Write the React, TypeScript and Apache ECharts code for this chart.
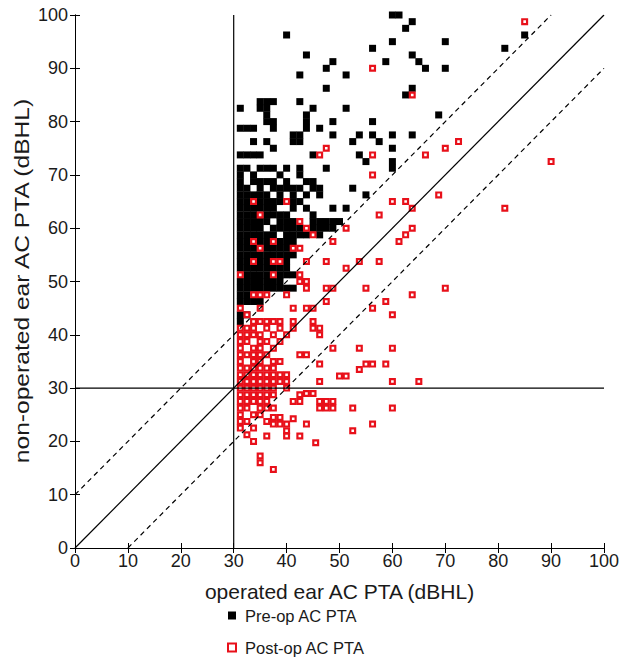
import React, { useEffect, useRef } from "react";
import * as echarts from "echarts";

// Pre-op AC PTA: [operated ear, non-operated ear] (dBHL)
const preOp: number[][] = [
  [60, 100], [61.25, 100], [63.75, 98.75], [62.5, 97.5], [40, 96.25], [60, 95], [70, 95], [85, 96.25],
  [56.25, 93.75], [81.25, 93.75], [43.75, 92.5], [63.75, 92.5], [48.75, 91.25], [58.75, 91.25], [65, 91.25],
  [47.5, 90], [66.25, 90], [70, 90], [42.5, 88.75], [51.25, 88.75], [47.5, 86.25], [63.75, 86.25], [62.5, 85],
  [68.75, 81.25], [63.75, 77.5], [60, 77.5], [56.25, 80], [56.25, 77.5], [57.5, 76.25], [53.75, 77.5],
  [52.5, 76.25], [51.25, 82.5], [48.75, 80], [48.75, 77.5], [46.25, 78.75], [45, 82.5], [43.75, 81.25],
  [43.75, 80], [43.75, 78.75], [42.5, 83.75], [37.5, 83.75], [35, 83.75], [36.25, 83.75], [35, 82.5],
  [36.25, 82.5], [36.25, 81.25], [36.25, 80], [31.25, 82.5], [31.25, 78.75], [32.5, 78.75], [33.75, 78.75],
  [37.5, 80], [37.5, 78.75], [41.25, 76.25], [42.5, 76.25], [41.25, 77.5], [42.5, 77.5], [33.75, 76.25],
  [36.25, 76.25], [37.5, 75], [60, 75], [31.25, 73.75], [32.5, 73.75], [33.75, 73.75], [35, 73.75], [45, 73.75],
  [47.5, 71.25], [53.75, 73.75], [55, 72.5], [60, 72.5], [60, 71.25], [52.5, 67.5], [55, 66.25], [46.25, 66.25],
  [48.75, 63.75], [51.25, 63.75], [47.5, 61.25], [48.75, 61.25], [50, 61.25], [47.5, 60], [48.75, 60],
  [31.25, 71.25], [32.5, 71.25], [35, 71.25], [36.25, 71.25], [37.5, 71.25], [40, 71.25], [42.5, 71.25],
  [31.25, 70], [33.75, 70], [38.75, 70], [42.5, 70],
  [31.25, 68.75], [33.75, 68.75], [35, 68.75], [36.25, 68.75], [37.5, 68.75], [40, 68.75], [43.75, 68.75], [45, 68.75],
  [31.25, 67.5], [32.5, 67.5], [35, 67.5], [37.5, 67.5], [38.75, 67.5], [40, 67.5], [41.25, 67.5], [42.5, 67.5], [45, 67.5], [46.25, 67.5],
  [31.25, 66.25], [32.5, 66.25], [33.75, 66.25], [35, 66.25], [36.25, 66.25], [38.75, 66.25], [41.25, 66.25], [43.75, 66.25],
  [31.25, 65], [32.5, 65], [35, 65], [36.25, 65], [37.5, 65], [38.75, 65], [41.25, 65], [42.5, 65],
  [31.25, 63.75], [32.5, 63.75], [33.75, 63.75], [35, 63.75], [36.25, 63.75], [37.5, 63.75], [41.25, 63.75], [43.75, 63.75],
  [31.25, 62.5], [32.5, 62.5], [33.75, 62.5], [36.25, 62.5], [37.5, 62.5], [38.75, 62.5], [40, 62.5], [45, 62.5],
  [31.25, 61.25], [32.5, 61.25], [33.75, 61.25], [35, 61.25], [36.25, 61.25], [38.75, 61.25], [40, 61.25], [41.25, 61.25], [45, 61.25], [46.25, 61.25],
  [31.25, 60], [32.5, 60], [33.75, 60], [35, 60], [37.5, 60], [38.75, 60], [40, 60], [41.25, 60], [42.5, 60], [45, 60], [46.25, 60],
  [31.25, 58.75], [32.5, 58.75], [33.75, 58.75], [35, 58.75], [36.25, 58.75], [37.5, 58.75], [40, 58.75], [41.25, 58.75], [42.5, 58.75], [43.75, 58.75], [46.25, 58.75],
  [31.25, 57.5], [32.5, 57.5], [35, 57.5], [36.25, 57.5], [38.75, 57.5], [40, 57.5], [41.25, 57.5],
  [31.25, 56.25], [32.5, 56.25], [33.75, 56.25], [36.25, 56.25], [37.5, 56.25], [38.75, 56.25], [40, 56.25],
  [31.25, 55], [32.5, 55], [33.75, 55], [35, 55], [36.25, 55], [37.5, 55], [38.75, 55], [40, 55], [41.25, 55],
  [31.25, 53.75], [32.5, 53.75], [35, 53.75], [36.25, 53.75], [40, 53.75],
  [31.25, 52.5], [32.5, 52.5], [33.75, 52.5], [35, 52.5], [36.25, 52.5], [37.5, 52.5], [38.75, 52.5], [40, 52.5],
  [32.5, 51.25], [33.75, 51.25], [35, 51.25], [36.25, 51.25], [38.75, 51.25], [40, 51.25], [41.25, 51.25],
  [31.25, 50], [32.5, 50], [33.75, 50], [35, 50], [36.25, 50], [37.5, 50], [38.75, 50],
  [31.25, 48.75], [32.5, 48.75], [33.75, 48.75], [35, 48.75], [36.25, 48.75], [37.5, 48.75], [38.75, 48.75], [40, 48.75], [41.25, 48.75],
  [31.25, 47.5], [32.5, 47.5], [31.25, 46.25], [32.5, 46.25], [33.75, 46.25], [35, 46.25],
  [31.25, 43.75], [32.5, 43.75], [31.25, 42.5],
];

// Post-op AC PTA: [operated ear, non-operated ear] (dBHL)
const postOp: number[][] = [
  [85, 98.75], [56.25, 90], [63.75, 85], [72.5, 76.25], [70, 75], [66.25, 73.75], [90, 72.5], [68.75, 66.25],
  [62.5, 65], [60, 65], [81.25, 63.75], [63.75, 63.75], [57.5, 62.5], [63.75, 60], [62.5, 58.75], [61.25, 57.5],
  [51.25, 60], [48.75, 57.5], [46.25, 73.75], [47.5, 75], [56.25, 73.75], [56.25, 70], [42.5, 61.25], [43.75, 60],
  [45, 58.75], [33.75, 65], [40, 65], [35, 62.5], [33.75, 57.5], [35, 56.25], [37.5, 57.5], [41.25, 56.25],
  [42.5, 56.25], [33.75, 53.75], [37.5, 53.75], [38.75, 53.75], [43.75, 53.75], [47.5, 53.75], [53.75, 53.75],
  [57.5, 53.75], [51.25, 52.5], [31.25, 51.25], [37.5, 51.25], [42.5, 51.25], [42.5, 50], [43.75, 50], [43.75, 48.75],
  [47.5, 48.75], [48.75, 48.75], [55, 48.75], [70, 48.75], [63.75, 47.5], [33.75, 47.5], [35, 47.5], [36.25, 47.5],
  [40, 47.5], [47.5, 46.25], [41.25, 45], [43.75, 45], [45, 45], [56.25, 45], [58.75, 46.25], [60, 43.75],
  [32.5, 43.75], [35, 45], [31.25, 45],
  [33.75, 42.5], [35, 42.5], [36.25, 42.5], [37.5, 42.5], [38.75, 42.5], [41.25, 42.5], [45, 42.5],
  [31.25, 41.25], [32.5, 41.25], [33.75, 41.25], [36.25, 41.25], [38.75, 41.25], [41.25, 41.25], [45, 41.25], [46.25, 41.25],
  [31.25, 40], [32.5, 40], [33.75, 40], [35, 40], [37.5, 40], [40, 40], [46.25, 40],
  [31.25, 38.75], [32.5, 38.75], [35, 38.75], [36.25, 38.75], [38.75, 38.75],
  [31.25, 37.5], [33.75, 37.5], [35, 37.5], [37.5, 37.5], [48.75, 37.5], [53.75, 37.5], [60, 37.5],
  [31.25, 36.25], [32.5, 36.25], [33.75, 36.25], [35, 36.25], [36.25, 36.25], [42.5, 36.25], [43.75, 36.25],
  [31.25, 35], [33.75, 35], [35, 35], [37.5, 35], [38.75, 35], [46.25, 34.5], [55, 34.5], [56.25, 34.5], [58.75, 34.5],
  [31.25, 33.75], [32.5, 33.75], [33.75, 33.75], [35, 33.75], [36.25, 33.75], [37.5, 33.75], [53.75, 33.5],
  [31.25, 32.5], [32.5, 32.5], [33.75, 32.5], [35, 32.5], [36.25, 32.5], [37.5, 32.5], [38.75, 32.5], [40, 32.5], [50, 32.25], [51.25, 32.25],
  [31.25, 31.25], [32.5, 31.25], [33.75, 31.25], [35, 31.25], [36.25, 31.25], [37.5, 31.25], [38.75, 31.25], [40, 31.25], [46.25, 31.25], [60, 31.25], [65, 31.25],
  [31.25, 30], [32.5, 30], [33.75, 30], [35, 30], [36.25, 30], [37.5, 30], [40, 30],
  [31.25, 28.75], [32.5, 28.75], [33.75, 28.75], [35, 28.75], [36.25, 28.75], [37.5, 28.75], [42.5, 28.75], [43.75, 29], [45, 29],
  [31.25, 27.5], [32.5, 27.5], [33.75, 27.5], [35, 27.5], [36.25, 27.5], [41.25, 27.5], [42.5, 27.5], [46.25, 27.5], [47.5, 27.5], [48.75, 27.5],
  [31.25, 26.25], [32.5, 26.25], [35, 26.25], [36.25, 26.25], [37.5, 26.25], [46.25, 26.25], [47.5, 26.25], [48.75, 26.25], [52.5, 26.25], [60, 26.25],
  [31.25, 25], [33.75, 25], [35, 25], [37.5, 24.5], [38.75, 24.5], [41.25, 24.25],
  [31.25, 23.75], [32.5, 23.75], [36.25, 23.75], [37.5, 23.25], [38.75, 23.25], [40, 23.25], [43.75, 23.25], [56.25, 23.25],
  [31.25, 22.5], [33.75, 22.5], [40, 22], [52.5, 22],
  [32.5, 21.25], [36.25, 21], [40, 21], [42.5, 21],
  [33.75, 20], [45.5, 19.75], [35, 17.25], [35, 16], [37.5, 14.75],
];

const xTicks = [0, 10, 20, 30, 40, 50, 60, 70, 80, 90, 100];
const refLines: { name: string; pts: number[][]; type: string }[] = [
  { name: "identity", pts: [[0, 0], [100, 100]], type: "solid" },
  { name: "+10", pts: [[0, 10], [90, 100]], type: "dashed" },
  { name: "-10", pts: [[10, 0], [100, 90]], type: "dashed" },
  { name: "x30", pts: [[30, 0], [30, 100]], type: "solid" },
  { name: "y30", pts: [[0, 30], [100, 30]], type: "solid" },
];

const FONT = "'Liberation Sans', Arial, Helvetica, sans-serif";
const TXT = "#1a1a1a";
const Y_TITLE = "non-operated ear AC PTA (dBHL)";

export default function App() {
  const ref = useRef<HTMLDivElement>(null);
  useEffect(() => {
    if (!ref.current) return;
    const chart = echarts.init(ref.current, undefined, { renderer: "svg" });
    const axisCommon = {
      type: "value" as const,
      min: 0,
      max: 100,
      interval: 10,
      splitLine: { show: false },
      axisLine: { show: true, lineStyle: { color: "#000", width: 1 } },
      axisTick: { show: true, inside: true, length: 5, lineStyle: { color: "#000" } },
    };
    chart.setOption({
      animation: false,
      backgroundColor: "#fff",
      textStyle: { fontFamily: FONT },
      grid: { left: 75, right: 26, top: 15, bottom: 113 },
      graphic: [
        {
          type: "text",
          x: 22,
          y: 281,
          rotation: Math.PI / 2,
          scaleX: 1.2,
          style: {
            text: Y_TITLE,
            fontFamily: FONT,
            fontSize: 20.5,
            fill: TXT,
            align: "center",
            verticalAlign: "middle",
          },
        },
      ],
      legend: {
        orient: "vertical",
        left: 227,
        top: 607,
        height: 54,
        padding: 0,
        itemWidth: 8,
        itemHeight: 8,
        itemGap: 15,
        textStyle: { fontFamily: FONT, fontSize: 16.5, color: TXT, padding: [0, 0, 0, 4] },
        data: [
          { name: "Pre-op AC PTA", icon: "rect", itemStyle: { color: "#000", opacity: 1 } },
          { name: "Post-op AC PTA", icon: "rect", itemStyle: { color: "#fff", borderColor: "#e8101a", borderWidth: 2, opacity: 1 } },
        ],
      },
      xAxis: [
        {
          ...axisCommon,
          position: "bottom",
          name: "operated ear AC PTA (dBHL)",
          nameLocation: "middle",
          nameGap: 33,
          nameTextStyle: { fontFamily: FONT, fontSize: 21, color: TXT },
          axisLabel: { fontFamily: FONT, fontSize: 18, color: TXT, margin: 4, customValues: xTicks },
        },
        { ...axisCommon, position: "top", axisLabel: { show: false } },
      ],
      yAxis: [
        {
          ...axisCommon,
          position: "left",
          axisLabel: { fontFamily: FONT, fontSize: 18, color: TXT, margin: 7 },
        },
        { ...axisCommon, position: "right", axisLabel: { show: false } },
      ],
      series: [
        {
          name: "Pre-op AC PTA",
          type: "scatter",
          symbol: "rect",
          symbolSize: 7,
          itemStyle: { color: "#000", opacity: 1 },
          data: preOp,
          z: 2,
        },
        {
          name: "Post-op AC PTA",
          type: "scatter",
          symbol: "rect",
          symbolSize: 4.8,
          itemStyle: { color: "#fff", borderColor: "#e8101a", borderWidth: 2.2, opacity: 1 },
          data: postOp,
          z: 3,
        },
        ...refLines.map((l) => ({
          name: l.name,
          type: "line",
          data: l.pts,
          symbol: "none",
          z: 4,
          silent: true,
          lineStyle: { color: "#000", width: 1.2, type: l.type === "dashed" ? [5, 4] : "solid" },
        })),
      ],
    });
    return () => chart.dispose();
  }, []);
  return <div ref={ref} style={{ position: "fixed", left: 0, top: 0, width: 630, height: 661 }} />;
}
